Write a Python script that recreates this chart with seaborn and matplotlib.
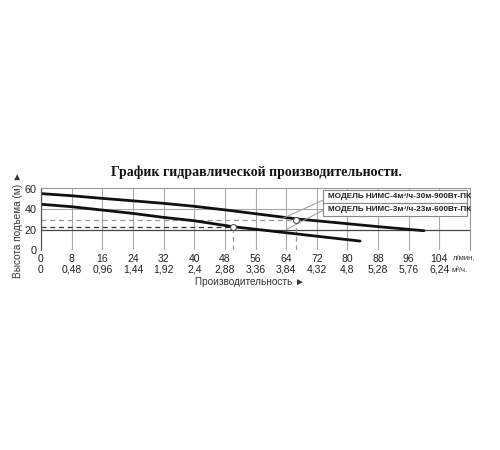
import matplotlib

matplotlib.use("Agg")
import matplotlib.pyplot as plt
from matplotlib.patches import Rectangle
import pandas as pd
import seaborn as sb

# flow in l/min and m3/h (tick rows), head in m
flow_lpm = [0, 8, 16, 24, 32, 40, 48, 56, 64, 72, 80, 88, 96, 104]
flow_m3h = ["0", "0,48", "0,96", "1,44", "1,92", "2,4", "2,88", "3,36",
            "3,84", "4,32", "4,8", "5,28", "5,76", "6,24"]
head_ticks = [0, 20, 40, 60]

model_4 = "МОДЕЛЬ НИМС-4м³/ч-30м-900Вт-ПК"
model_3 = "МОДЕЛЬ НИМС-3м³/ч-23м-600Вт-ПК"

q_4 = [0, 8, 16, 24, 32, 40, 48, 56, 67, 75.5, 88, 100]
h_4 = [55.5, 53.4, 50.8, 48.4, 45.9, 43.0, 39.5, 35.7, 30.5, 27.5, 23.0, 19.0]
q_3 = [0, 8, 16, 24, 32, 40, 50, 64, 75.5, 83.3]
h_3 = [45.0, 42.6, 39.3, 36.0, 32.1, 28.8, 23.0, 17.0, 12.1, 8.8]

# working points (flow, head)
work_4 = (66.7, 30)
work_3 = (50, 23)

curves = pd.concat([
    pd.DataFrame({"q": q_4, "h": h_4, "model": model_4}),
    pd.DataFrame({"q": q_3, "h": h_3, "model": model_3}),
])

sb.set_style("white")
plt.rcParams["font.family"] = ["Liberation Sans", "DejaVu Sans"]

fig = plt.figure(figsize=(5, 4.5), dpi=100)
ax = fig.add_axes([0.082, 0.4444, 0.858, 0.1378])

for x in flow_lpm:
    ax.axvline(x, color="#a8a8a8", lw=0.8, zorder=0)
ax.axhline(40, color="#a8a8a8", lw=0.8, zorder=0)
ax.axhline(20, color="#444444", lw=0.9, zorder=0)

# dashed guides to the working points
ax.plot([0, work_4[0]], [work_4[1], work_4[1]], ls=(0, (4, 3)), color="#999999", lw=0.9)
ax.plot([work_4[0], work_4[0]], [0, work_4[1]], ls=(0, (4, 3)), color="#999999", lw=0.9)
ax.plot([0, work_3[0]], [work_3[1], work_3[1]], ls=(0, (4, 3)), color="#333333", lw=0.9)
ax.plot([work_3[0], work_3[0]], [0, work_3[1]], ls=(0, (4, 3)), color="#999999", lw=0.9)

sb.lineplot(data=curves, x="q", y="h", hue="model", units="model", estimator=None,
            palette=["#111111", "#111111"], lw=2, legend=False, ax=ax)

ax.scatter([work_4[0], work_3[0]], [work_4[1], work_3[1]], s=18,
           facecolor="white", edgecolor="#555555", lw=0.8, zorder=5)

# leader lines to the model boxes
ax.plot([63.2, 73.6], [31.3, 49], color="#999999", lw=0.7)
ax.plot([64.1, 73.6], [20.3, 39], color="#999999", lw=0.7)

boxes = [(0.758, 0.21, model_4), (0.548, 0.21, model_3)]
for y0, hgt, label in boxes:
    ax.add_patch(Rectangle((0.657, y0), 0.336, hgt, transform=ax.transAxes,
                           facecolor="white", edgecolor="#888888", lw=0.8, zorder=6))
    ax.text(0.668, y0 + hgt / 2, label, transform=ax.transAxes, va="center",
            ha="left", fontsize=5.9, fontweight="bold", color="#222222", zorder=7)

ax.set_xlim(0, 112)
ax.set_ylim(0, 61)
ax.set_xticks(flow_lpm)
ax.set_xticklabels([f"{a}\n{b}" for a, b in zip(flow_lpm, flow_m3h)], fontsize=7.5)
for t in ax.get_xticklabels():
    t.set_linespacing(1.1)
ax.set_yticks(head_ticks)
ax.set_yticklabels([str(v) for v in head_ticks], fontsize=7.8)
ax.tick_params(length=0, pad=3, colors="#222222")
ax.set_xlabel("")
ax.set_ylabel("")

for side in ["top", "right"]:
    ax.spines[side].set_visible(True)
    ax.spines[side].set_color("#999999")
    ax.spines[side].set_linewidth(0.8)
ax.spines["left"].set_color("#555555")
ax.spines["left"].set_linewidth(0.9)
ax.spines["bottom"].set_visible(False)

ax.text(107.2, -0.13, "л/мин.", transform=ax.get_xaxis_transform(), fontsize=5.6,
        va="center", ha="left", color="#333333", clip_on=False)
ax.text(107.2, -0.33, "м³/ч.", transform=ax.get_xaxis_transform(), fontsize=5.6,
        va="center", ha="left", color="#333333", clip_on=False)

fig.text(0.39, 0.373, "Производительность ►", fontsize=7.2, ha="left", va="center",
         color="#333333")
fig.text(0.036, 0.5, "Высота подъема (м) ►", fontsize=7.2, rotation=90,
         ha="center", va="center", color="#333333")
fig.text(0.512, 0.618, "График гидравлической производительности.",
         family="Liberation Serif", fontweight="bold", fontsize=10,
         ha="center", va="center", color="#111111")

plt.savefig("out.png", dpi=100)
